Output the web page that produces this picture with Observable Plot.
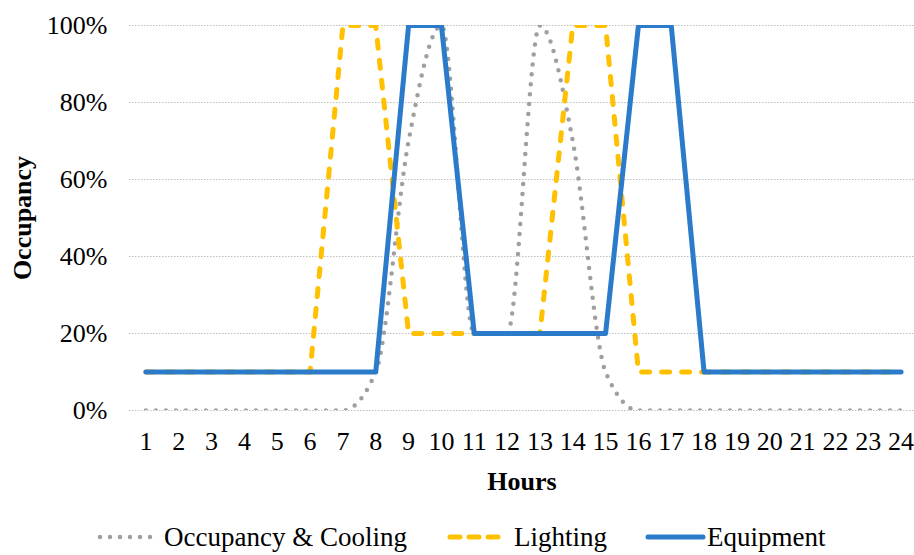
<!DOCTYPE html>
<html>
<head>
<meta charset="utf-8">
<script src="https://cdn.jsdelivr.net/npm/d3@7"></script>
<script src="https://cdn.jsdelivr.net/npm/@observablehq/plot@0.6"></script>
<style>
  html, body { margin: 0; padding: 0; background: #fff; overflow: hidden; }
  #chart { width: 914px; }
  .legend { display: flex; align-items: center; height: 36px; padding-left: 97px; margin-top: 4px;
            font-family: "Liberation Serif", "Times New Roman", serif; font-size: 27px; color: #000; white-space: nowrap; }
  .legend svg { display: block; }
  .legend .item { display: flex; align-items: center; }
</style>
</head>
<body>
<div id="chart"></div>
<script>
const hours = [1,2,3,4,5,6,7,8,9,10,11,12,13,14,15,16,17,18,19,20,21,22,23,24];
const occupancy = [0,0,0,0,0,0,0,0.1,0.7,1,0.2,0.2,1,0.7,0.1,0,0,0,0,0,0,0,0,0];
const lighting  = [0.1,0.1,0.1,0.1,0.1,0.1,1,1,0.2,0.2,0.2,0.2,0.2,1,1,0.1,0.1,0.1,0.1,0.1,0.1,0.1,0.1,0.1];
const equipment = [0.1,0.1,0.1,0.1,0.1,0.1,0.1,0.1,1,1,0.2,0.2,0.2,0.2,0.2,1,1,0.1,0.1,0.1,0.1,0.1,0.1,0.1];
const yTicks = [0,0.2,0.4,0.6,0.8,1];
const seriesNames = ["Occupancy & Cooling", "Lighting", "Equipment"];

const styles = {
  "Occupancy & Cooling": {stroke: "#9f9f9f", strokeWidth: 4.5, strokeDasharray: "0,10", curve: "monotone-x"},
  "Lighting": {stroke: "#ffc000", strokeWidth: 5, strokeDasharray: "8,12", curve: "linear"},
  "Equipment": {stroke: "#2b7bca", strokeWidth: 5, strokeDasharray: null, curve: "linear"}
};

const table = (vals) => hours.map((h, i) => ({hour: h, value: vals[i]}));
const dataBySeries = {
  "Occupancy & Cooling": table(occupancy),
  "Lighting": table(lighting),
  "Equipment": table(equipment)
};

const lineMarks = seriesNames.map(name => {
  const s = styles[name];
  const opts = {x: "hour", y: "value", stroke: s.stroke, strokeWidth: s.strokeWidth,
                curve: s.curve, clip: true, strokeLinecap: "round", strokeLinejoin: "round"};
  if (s.strokeDasharray) opts.strokeDasharray = s.strokeDasharray;
  return Plot.line(dataBySeries[name], opts);
});

const plot = Plot.plot({
  width: 914,
  height: 515,
  marginTop: 25,
  marginBottom: 105,
  marginLeft: 129,
  marginRight: 0,
  style: {fontFamily: "'Liberation Serif', 'Times New Roman', serif", fontSize: "26px", color: "#000", background: "#fff"},
  x: {type: "linear", domain: [0.5, 24.5], range: [129, 917]},
  y: {domain: [0, 1]},
  marks: [
    Plot.ruleY(yTicks, {stroke: "#bfbfbf", strokeWidth: 1, strokeDasharray: "1.5,1.5"}),
    Plot.axisY({ticks: yTicks, tickFormat: d => Math.round(d * 100) + "%", tickSize: 0, tickPadding: 22,
                label: "Occupancy", labelAnchor: "center", labelOffset: 117, labelArrow: "none"}),
    Plot.axisX({ticks: hours, tickSize: 0, tickPadding: 21, tickFormat: d => String(d),
                label: "Hours", labelAnchor: "center", labelOffset: 79, labelArrow: "none"}),
    ...lineMarks
  ]
});
plot.querySelectorAll('[aria-label="y-axis label"], [aria-label="x-axis label"]').forEach(g => {
  g.setAttribute("font-weight", "bold");
  g.style.fontWeight = "bold";
});
document.getElementById("chart").appendChild(plot);

// Legend
const legend = d3.select("#chart").append("div").attr("class", "legend");
const legendLayout = {
  "Occupancy & Cooling": {w: 58, gapBefore: 0, gapAfter: 9},
  "Lighting": {w: 56, gapBefore: 40, gapAfter: 11},
  "Equipment": {w: 61, gapBefore: 38, gapAfter: 1}
};
seriesNames.forEach(name => {
  const s = styles[name], L = legendLayout[name];
  const item = legend.append("div").attr("class", "item").style("margin-left", L.gapBefore + "px");
  const sw = item.append("svg").attr("width", L.w).attr("height", 12).style("margin-right", L.gapAfter + "px");
  const ln = sw.append("line").attr("x1", 3).attr("x2", L.w - 3).attr("y1", 6).attr("y2", 6)
    .attr("stroke", s.stroke).attr("stroke-width", s.strokeWidth).attr("stroke-linecap", "round");
  if (s.strokeDasharray) ln.attr("stroke-dasharray", name === "Lighting" ? "10,9" : s.strokeDasharray);
  item.append("span").text(name);
});
</script>
</body>
</html>
